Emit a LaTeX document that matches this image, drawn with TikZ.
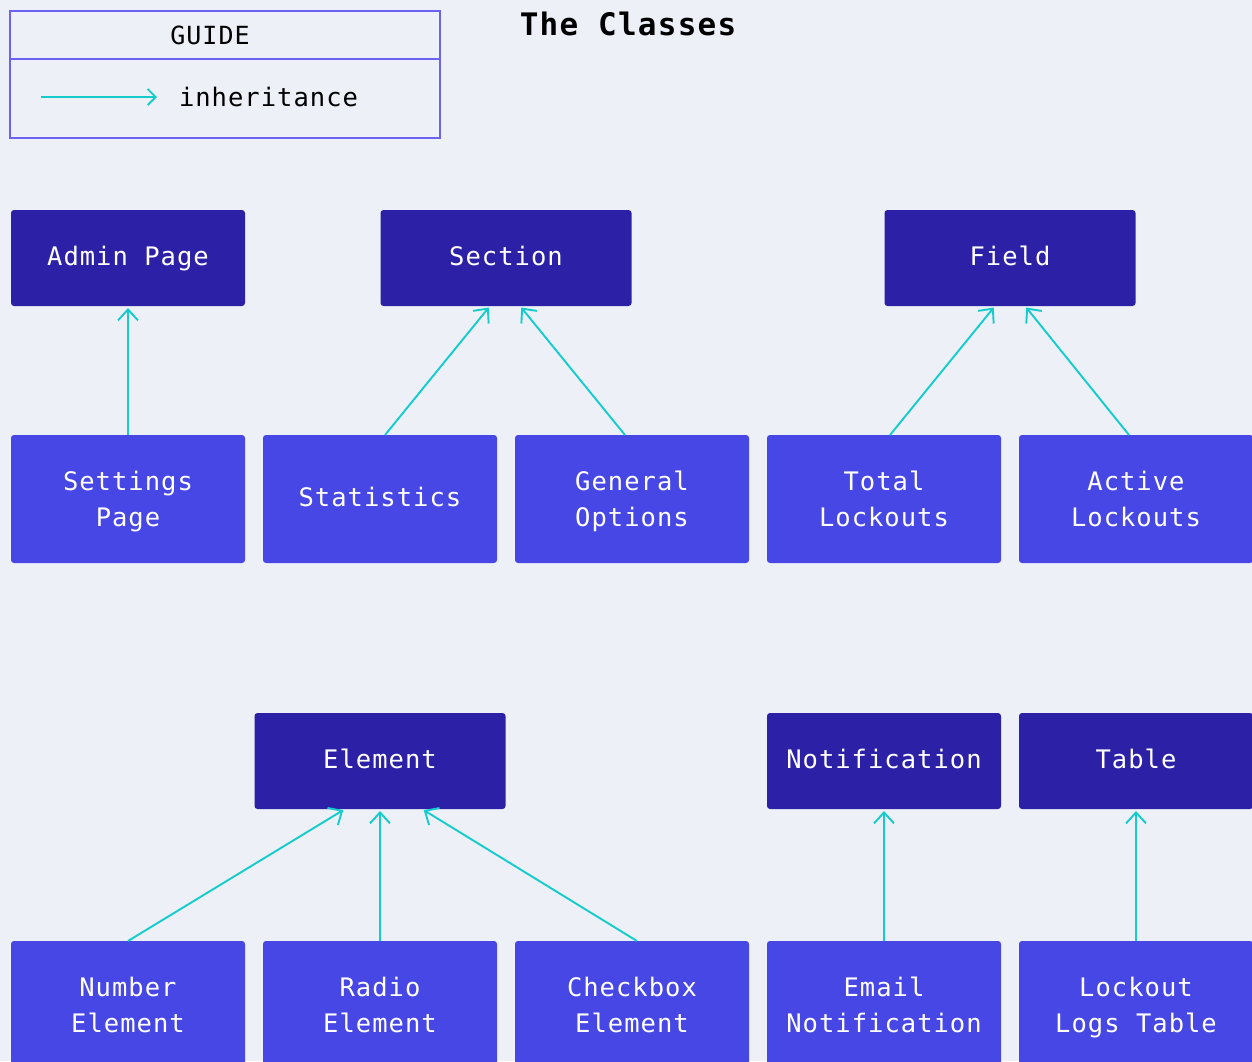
\documentclass[tikz,border=0pt]{standalone}
\usepackage{fontspec}
\usetikzlibrary{arrows.meta}
\newfontfamily\monofam[LetterSpace=4]{DejaVu Sans Mono}
\definecolor{bgcol}{HTML}{EDF0F7}
\definecolor{basecol}{HTML}{2C21A6}
\definecolor{subcol}{HTML}{4747E6}
\definecolor{linkcol}{HTML}{14CCCC}
\definecolor{guidecol}{HTML}{6B62F2}
% strut for single-line labels
\newcommand\onestrut{\rule[-10.8pt]{0pt}{36pt}}
% two centred lines placed about the node centre, 36pt apart
\newcommand\twolines[2]{%
  \smash{\raisebox{8.7pt}{\makebox[0pt]{#1}}}%
  \smash{\raisebox{-27.3pt}{\makebox[0pt]{#2}}}}
\begin{document}
\begin{tikzpicture}[x=1pt,y=-1pt,
  every node/.style={inner sep=0pt, outer sep=0pt},
  cls/.style={rectangle, rounded corners=3pt, text=white,
    font=\monofam\fontsize{25.5}{36}\selectfont, minimum width=234pt},
  single/.style={execute at begin node=\onestrut},
  basecls/.style={cls, single, fill=basecol, minimum height=96pt},
  subcls/.style={cls, fill=subcol, minimum height=128pt},
  subone/.style={cls, single, fill=subcol, minimum height=128pt},
  inherit/.style={draw=linkcol, line width=1.9pt,
    -{Straight Barb[length=11pt,width=20pt,line width=1.9pt]}, shorten >=2pt},
  guideline/.style={draw=guidecol, line width=1.2pt},
  plain/.style={font=\monofam\fontsize{25}{36}\selectfont, text=black}
]
\useasboundingbox[fill=bgcol] (0,0) rectangle (1252,1061);

% guide
\draw[guideline] (10,11) rectangle (440,138);
\draw[guideline] (10,59) -- (440,59);
\node[plain] (guidehead) at (210,35) {GUIDE};
\coordinate (legA) at (41,97);
\coordinate (legB) at (157,97);
\draw[inherit, shorten >=0pt, -{Straight Barb[length=8pt,width=16pt,line width=1.9pt]}] (legA) -- (legB);
\node[plain, anchor=west, font=\monofam\fontsize{25.5}{36}\selectfont] (legtext) at (179,97) {inheritance};

% title
\node[plain, font=\monofam\bfseries\fontsize{31}{36}\selectfont] (title) at (628,24) {The Classes};

% base classes
\node[basecls] (admin) at (128,258) {Admin Page};
\node[basecls, minimum width=251pt] (section) at (506,258) {Section};
\node[basecls, minimum width=251pt] (field) at (1010,258) {Field};
\node[basecls, minimum width=251pt] (element) at (380,761) {Element};
\node[basecls] (notif) at (884,761) {Notification};
\node[basecls] (table) at (1136,761) {Table};

% derived classes
\node[subcls] (settings) at (128,499) {\twolines{Settings}{Page}};
\node[subone] (stats) at (380,499) {Statistics};
\node[subcls] (general) at (632,499) {\twolines{General}{Options}};
\node[subcls] (total) at (884,499) {\twolines{Total}{Lockouts}};
\node[subcls] (active) at (1136,499) {\twolines{Active}{Lockouts}};
\node[subcls] (number) at (128,1005) {\twolines{Number}{Element}};
\node[subcls] (radio) at (380,1005) {\twolines{Radio}{Element}};
\node[subcls] (checkbox) at (632,1005) {\twolines{Checkbox}{Element}};
\node[subcls] (email) at (884,1005) {\twolines{Email}{Notification}};
\node[subcls] (logs) at (1136,1005) {\twolines{Lockout}{Logs Table}};

% inheritance links
\draw[inherit] (settings.north) -- (admin.south);
\draw[inherit] ([xshift=5pt]stats.north) -- ([xshift=-16pt]section.south);
\draw[inherit] ([xshift=-7pt]general.north) -- ([xshift=14pt]section.south);
\draw[inherit] ([xshift=6pt]total.north) -- ([xshift=-15pt]field.south);
\draw[inherit] ([xshift=-7pt]active.north) -- ([xshift=15pt]field.south);
\draw[inherit] (number.north) -- ([xshift=-35pt]element.south);
\draw[inherit] (radio.north) -- (element.south);
\draw[inherit] ([xshift=5pt]checkbox.north) -- ([xshift=42pt]element.south);
\draw[inherit] (email.north) -- (notif.south);
\draw[inherit] (logs.north) -- (table.south);
\end{tikzpicture}
\end{document}
